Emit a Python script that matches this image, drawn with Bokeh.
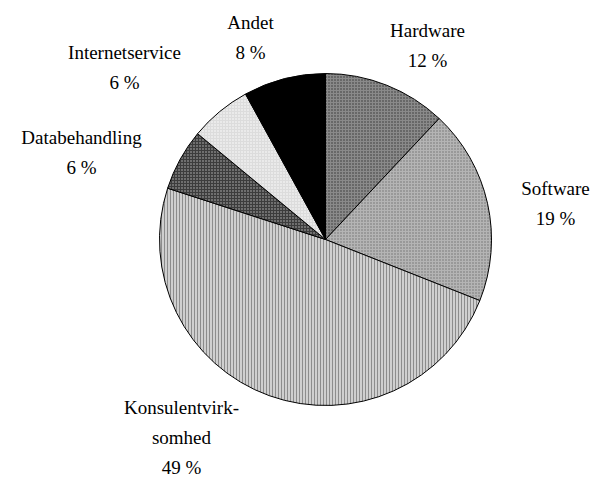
from bokeh.plotting import figure
from bokeh.models import Range1d, ColumnDataSource
from bokeh.core.properties import value
from bokeh.embed import file_html
from bokeh.resources import INLINE
import math

categories = ["Hardware", "Software", "Konsulentvirk-\nsomhed", "Databehandling", "Internetservice", "Andet"]
shares = [12, 19, 49, 6, 6, 8]

# styling (not data)
fills = ["#8a8a8a", "#b4b4b4", "#cfcfcf", "#3c3c3c", "#dcdcdc", "#000000"]
hatches = ["dot", "dot", "vertical_line", "dot", "dot", " "]
hatch_colors = ["#333333", "#707070", "#8c8c8c", "#bbbbbb", "#ffffff", "#000000"]
hatch_scales = [3, 3, 3, 3, 3, 3]
# label centres in pixel space (page coords)
label_px = [(427, 45), (555, 203), (181, 437), (81, 152), (124, 67), (250, 37)]

W, H = 595, 480
cx_px, cy_px, r = 325, 239, 166

def tx(x):
    return x

def ty(y):
    return H - y

starts, ends = [], []
a = math.pi / 2
total = sum(shares)
for s in shares:
    starts.append(a)
    a = a - s / total * 2 * math.pi
    ends.append(a)

src = ColumnDataSource(dict(
    start=starts, end=ends, fill=fills, hatch=hatches, hcol=hatch_colors, hs=hatch_scales,
))

p = figure(width=W, height=H, x_range=Range1d(0, W), y_range=Range1d(0, H),
           output_backend="svg", toolbar_location=None, min_border=0)
p.axis.visible = False
p.grid.visible = False
p.outline_line_color = None
p.background_fill_color = "white"

p.wedge(x=tx(cx_px), y=ty(cy_px), radius=r, start_angle="start", end_angle="end",
        direction="clock", fill_color="fill", hatch_pattern="hatch", hatch_color="hcol",
        hatch_scale="hs", hatch_weight=1, line_color="black", line_width=1, source=src)

texts = [f"{c}\n{s} %" for c, s in zip(categories, shares)]
lsrc = ColumnDataSource(dict(
    x=[tx(x) for x, y in label_px], y=[ty(y) for x, y in label_px], t=texts,
))
p.text(x="x", y="y", text="t", source=lsrc, text_align="center", text_baseline="middle",
       text_font=value("Liberation Serif"), text_font_size="19px", text_color="black",
       text_line_height=1.45)

open("out.html", "w").write(file_html(p, INLINE))
